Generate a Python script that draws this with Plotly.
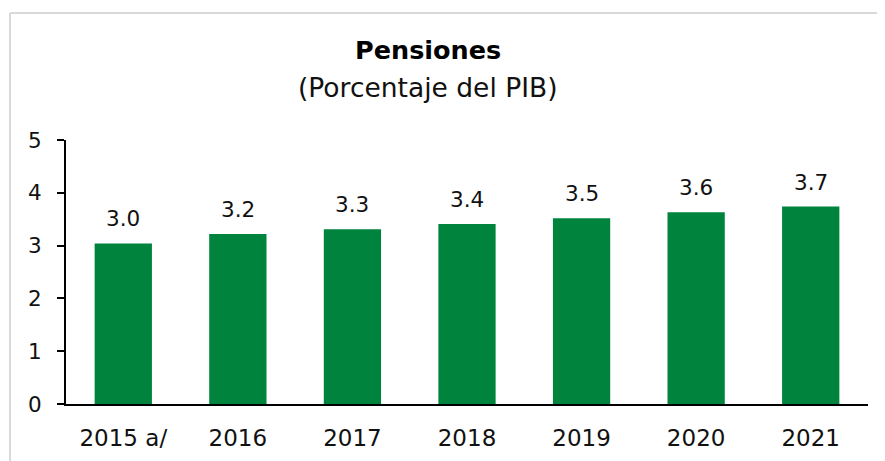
import plotly.graph_objects as go

categories = ["2015 a/", "2016", "2017", "2018", "2019", "2020", "2021"]
values = [3.04, 3.22, 3.31, 3.41, 3.52, 3.63, 3.74]
labels = ["3.0", "3.2", "3.3", "3.4", "3.5", "3.6", "3.7"]
y_ticks = [0, 1, 2, 3, 4, 5]

# page body has an 8px margin; work in screen pixels and shift
OFF = 8
SW, SH = 885, 461
W, H = SW - OFF, SH - OFF
# plot area in screen pixels
PX0, PX1, PY0, PY1 = 66, 868, 140, 404
L, R, T, B = PX0 - OFF, SW - PX1, PY0 - OFF, SH - PY1
pw, ph = PX1 - PX0, PY1 - PY0

def px_x(p):
    return (p - PX0) / pw

def px_y(p):
    return (PY1 - p) / ph

font_family = "DejaVu Sans, Verdana, sans-serif"

fig = go.Figure()
fig.add_trace(go.Bar(
    x=categories, y=values, width=0.5,
    marker=dict(color="#00843D", line=dict(width=0)),
    hoverinfo="skip",
))

for i, (v, t) in enumerate(zip(values, labels)):
    fig.add_annotation(x=i, y=v, text=t, showarrow=False, yanchor="bottom", xanchor="center",
                       yshift=10, font=dict(size=21.5, color="#111", family=font_family))

fig.add_annotation(xref="paper", yref="paper", x=px_x(428), y=px_y(50), text="<b>Pensiones</b>",
                   xanchor="center", yanchor="middle",
                   showarrow=False, font=dict(size=25.5, color="#000", family=font_family))
fig.add_annotation(xref="paper", yref="paper", x=px_x(428), y=px_y(88), text="(Porcentaje del PIB)",
                   xanchor="center", yanchor="middle",
                   showarrow=False, font=dict(size=26.5, color="#111", family=font_family))

# outer frame lines
fig.add_shape(type="line", xref="paper", yref="paper", x0=px_x(10), x1=px_x(10),
              y0=px_y(13), y1=px_y(470), line=dict(color="#d9d9d9", width=2))
fig.add_shape(type="line", xref="paper", yref="paper", x0=px_x(10), x1=px_x(900),
              y0=px_y(13), y1=px_y(13), line=dict(color="#d9d9d9", width=2))

fig.update_layout(
    width=W, height=H,
    margin=dict(l=L, r=R, t=T, b=B, autoexpand=False),
    paper_bgcolor="white", plot_bgcolor="white",
    showlegend=False,
    font=dict(family=font_family, size=21, color="#111"),
)
fig.update_xaxes(
    type="category", range=[-0.5, len(categories) - 0.5],
    showline=True, linecolor="black", linewidth=2, ticks="", showgrid=False,
    tickfont=dict(size=23), ticklabelstandoff=12,
)
fig.update_yaxes(
    range=[0, 5], tickvals=y_ticks, showline=True, linecolor="black", linewidth=2,
    ticks="outside", ticklen=7, tickcolor="black", tickwidth=2, showgrid=False,
    zeroline=False, tickfont=dict(size=21.5), ticklabelstandoff=11,
)

fig.write_html("out.html")
